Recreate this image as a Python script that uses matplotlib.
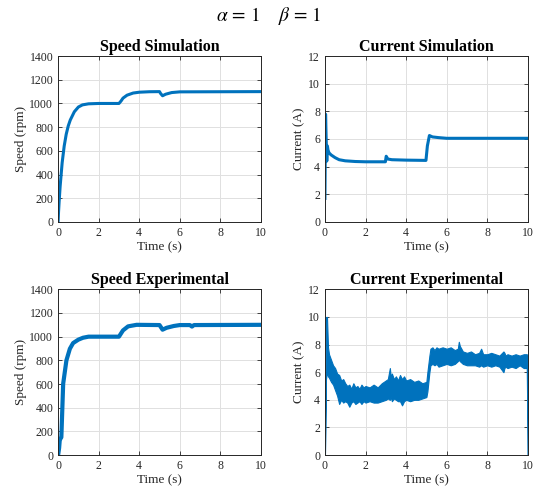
"""Speed / current response plots, alpha = 1, beta = 1 (MATLAB-style figure)."""

import matplotlib
matplotlib.use("Agg")
import matplotlib.pyplot as plt

plt.rcParams["font.family"] = ["Liberation Serif", "DejaVu Serif"]
plt.rcParams["mathtext.fontset"] = "stix"

BLUE = "#0072BD"
DARK = "0.15"

# speed simulation (rpm)
t_ss = [0, 0.02, 0.05, 0.1, 0.2, 0.3, 0.4, 0.5, 0.6, 0.8, 1.0, 1.2, 1.5, 2.0, 3.0,
        3.1, 3.2, 3.4, 3.7, 4.0, 4.5, 5.0, 5.05, 5.15, 5.3, 5.6, 6.0, 10.0]
w_ss = [0, 80, 170, 300, 500, 640, 740, 810, 860, 930, 970, 988, 997, 1000, 1000,
        1020, 1045, 1070, 1088, 1095, 1099, 1100, 1085, 1065, 1078, 1092, 1098, 1100]

# current simulation (A)
t_cs = [0, 0.03, 0.06, 0.09, 0.12, 0.15, 0.2, 0.3, 0.5, 0.7, 1.0, 1.5, 2.0, 2.98,
        3.02, 3.1, 3.3, 4.0, 4.98, 5.05, 5.15, 5.3, 5.6, 6.0, 10.0]
i_cs = [1.7, 7.8, 6.0, 4.4, 5.5, 5.2, 5.0, 4.85, 4.65, 4.5, 4.42, 4.37, 4.35, 4.35,
        4.75, 4.55, 4.5, 4.47, 4.45, 5.5, 6.25, 6.15, 6.1, 6.05, 6.05]

# speed experimental (rpm)
t_se = [0, 0.05, 0.08, 0.12, 0.16, 0.25, 0.41, 0.58, 0.74, 1.0, 1.23, 1.5, 3.0,
        3.2, 3.45, 3.87, 5.0, 5.15, 5.35, 5.7, 6.0, 6.5, 6.6, 6.7, 10.0]
w_se = [0, 60, 124, 140, 150, 603, 800, 898, 946, 975, 991, 1000, 1000,
        1053, 1087, 1100, 1098, 1059, 1075, 1090, 1098, 1098, 1085, 1098, 1100]

# current experimental (A): upper / lower edge of the noise band
t_ce = [0.00, 0.05, 0.10, 0.15, 0.20, 0.30, 0.40, 0.50, 0.60, 0.70, 0.80, 0.90,
        1.00, 1.10, 1.20, 1.30, 1.40, 1.50, 1.60, 1.70, 1.80, 1.90, 2.00, 2.20,
        2.40, 2.60, 2.80, 3.00, 3.10, 3.20, 3.25, 3.30, 3.40, 3.50, 3.60, 3.70,
        3.80, 3.90, 4.00, 4.20, 4.40, 4.60, 4.80, 5.00, 5.05, 5.10, 5.15, 5.20,
        5.30, 5.40, 5.50, 5.60, 5.80, 6.00, 6.20, 6.40, 6.55, 6.60, 6.65, 6.80,
        7.00, 7.20, 7.40, 7.60, 7.70, 7.80, 8.00, 8.20, 8.40, 8.60, 8.80, 8.85,
        8.90, 9.00, 9.20, 9.40, 9.60, 9.80, 9.95, 10.00]
i_ce_hi = [0.0, 10.0, 10.0, 7.8, 7.3, 6.9, 6.5, 6.3, 5.9, 5.8, 5.4, 5.5,
           5.2, 5.0, 5.1, 4.8, 5.2, 4.9, 5.0, 4.8, 5.1, 4.9, 5.0, 4.9,
           5.1, 4.9, 5.2, 5.4, 5.5, 6.3, 5.6, 5.9, 5.5, 5.7, 5.4, 5.8,
           5.5, 5.7, 5.4, 5.5, 5.3, 5.4, 5.2, 5.3, 6.0, 6.6, 7.2, 7.7,
           7.8, 7.6, 7.8, 7.7, 7.8, 7.7, 7.8, 7.6, 7.7, 8.2, 7.9, 7.5,
           7.4, 7.5, 7.3, 7.4, 7.7, 7.3, 7.3, 7.4, 7.3, 7.2, 7.5, 7.4,
           7.2, 7.3, 7.2, 7.3, 7.2, 7.3, 7.3, 7.2]
i_ce_lo = [0.0, 5.5, 6.0, 5.7, 5.6, 5.3, 5.1, 4.7, 4.3, 3.7, 4.0, 3.8,
           3.9, 3.8, 3.5, 3.8, 3.9, 3.7, 3.8, 3.9, 3.7, 3.9, 3.8, 3.9,
           3.8, 3.8, 3.9, 4.0, 4.1, 4.0, 4.2, 3.9, 4.1, 4.0, 3.9, 3.9,
           3.6, 3.9, 4.0, 3.9, 4.0, 4.0, 4.1, 4.2, 4.6, 5.3, 6.0, 6.5,
           6.6, 6.5, 6.6, 6.4, 6.5, 6.6, 6.5, 6.6, 6.8, 6.9, 6.8, 6.6,
           6.5, 6.5, 6.5, 6.4, 6.5, 6.4, 6.5, 6.4, 6.5, 6.4, 6.0, 6.3,
           6.4, 6.3, 6.4, 6.3, 6.5, 6.3, 6.3, 0.0]


def style_axes(ax, title, ylabel, ymax, ystep):
    ax.set_xlim(0, 10)
    ax.set_ylim(0, ymax)
    ax.set_xticks(range(0, 11, 2))
    ax.set_yticks(range(0, ymax + 1, ystep))
    ax.grid(True, color="0.88", linewidth=0.7)
    ax.set_axisbelow(True)
    ax.tick_params(direction="in", length=3, width=0.6, top=True, right=True,
                   labelsize=8.5, colors=DARK)
    for sp in ax.spines.values():
        sp.set_color(DARK)
        sp.set_linewidth(0.7)
    ax.set_title(title, fontsize=11.5, fontweight="bold", pad=4)
    ax.set_xlabel("Time (s)", fontsize=9.5, color=DARK, labelpad=2)
    ax.set_ylabel(ylabel, fontsize=9.5, color=DARK, labelpad=2)


fig = plt.figure(figsize=(5.38, 4.92), dpi=100)
ax1 = fig.add_axes([0.108, 0.549, 0.377, 0.337])
ax2 = fig.add_axes([0.604, 0.549, 0.377, 0.337])
ax3 = fig.add_axes([0.108, 0.075, 0.377, 0.337])
ax4 = fig.add_axes([0.604, 0.075, 0.377, 0.337])

ax1.plot(t_ss, w_ss, color=BLUE, linewidth=2.2)
style_axes(ax1, "Speed Simulation", "Speed (rpm)", 1400, 200)

ax2.plot(t_cs, i_cs, color=BLUE, linewidth=2.2)
style_axes(ax2, "Current Simulation", "Current (A)", 12, 2)

ax3.plot(t_se, w_se, color=BLUE, linewidth=3.0)
style_axes(ax3, "Speed Experimental", "Speed (rpm)", 1400, 200)

ax4.fill_between(t_ce, i_ce_lo, i_ce_hi, color=BLUE, linewidth=0.8, edgecolor=BLUE)
style_axes(ax4, "Current Experimental", "Current (A)", 12, 2)

fig.text(0.5, 0.968, r"$\alpha\,=\,1\quad\;\beta\,=\,1$", ha="center", va="center",
         fontsize=14)

fig.savefig("out.png", dpi=100)
